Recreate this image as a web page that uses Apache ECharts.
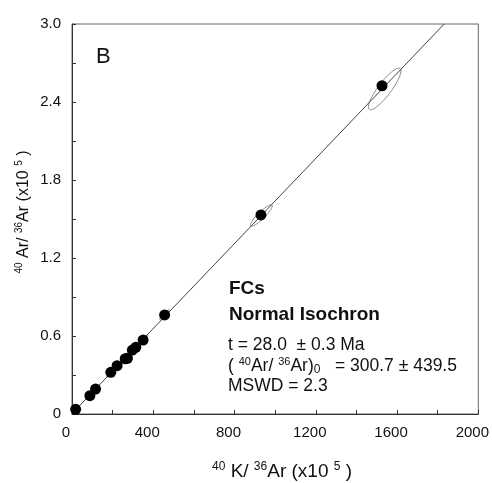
<!DOCTYPE html>
<html>
<head>
<meta charset="utf-8">
<script src="https://cdn.jsdelivr.net/npm/echarts@6/dist/echarts.min.js"></script>
<style>html,body{margin:0;padding:0;background:#fff;}#c{width:492px;height:483px;}</style>
</head>
<body>
<div id="c"></div>
<script>
// 40K/36Ar (x10^5) and 40Ar/36Ar (x10^5) of the analysed points
var pointX = [18, 88, 116, 191, 222, 262, 273, 297, 314, 350, 456, 930, 1526];
var pointY = [0.036, 0.141, 0.192, 0.321, 0.372, 0.425, 0.428, 0.492, 0.513, 0.569, 0.762, 1.531, 2.525];
// error ellipses: centre x, centre y, sigma x, sigma y, correlation
var ellCx  = [18, 88, 116, 191, 222, 262, 273, 297, 314, 350, 456, 932, 1539];
var ellCy  = [0.036, 0.141, 0.192, 0.321, 0.372, 0.425, 0.428, 0.492, 0.513, 0.569, 0.762, 1.527, 2.50];
var ellSx  = [18, 18, 18, 20, 20, 22, 22, 22, 22, 22, 24, 54, 80];
var ellSy  = [0.032, 0.032, 0.032, 0.035, 0.035, 0.038, 0.038, 0.038, 0.038, 0.038, 0.040, 0.083, 0.16];
var ellRho = [0.9, 0.9, 0.9, 0.9, 0.9, 0.9, 0.9, 0.9, 0.9, 0.9, 0.9, 0.9, 0.87];
// isochron line end points
var isoX = [0, 1832];
var isoY = [0.003, 3.0];
// axis ranges / ticks
var xMin = 0, xMax = 2000, xTick = 200, xLabelStep = 400;
var yMin = 0, yMax = 3.0, yTick = 0.3;

var FONT = '"Liberation Sans", Arial, Helvetica, sans-serif';

var scatterData = pointX.map(function (x, i) { return [x, pointY[i]]; });
var ellData = ellCx.map(function (x, i) { return [x, ellCy[i], ellSx[i], ellSy[i], ellRho[i]]; });
var lineData = isoX.map(function (x, i) { return [x, isoY[i]]; });

var chart = echarts.init(document.getElementById('c'), null, {renderer: 'canvas'});

var option = {
  animation: false,
  backgroundColor: '#fff',
  grid: {left: 72, right: 12, top: 24, bottom: 69, show: true, borderColor: '#666', borderWidth: 1, backgroundColor: 'transparent'},
  xAxis: {
    type: 'value', min: xMin, max: xMax, interval: xTick,
    axisLine: {show: true, onZero: false, lineStyle: {color: '#333', width: 1}},
    axisTick: {show: true, inside: true, length: 4, lineStyle: {color: '#333'}},
    splitLine: {show: false},
    axisLabel: {
      margin: 11, color: '#111', fontSize: 15, fontFamily: FONT, padding: [0, 12, 0, 0],
      formatter: function (v) { return (Math.round(v) % xLabelStep === 0) ? String(Math.round(v)) : ''; }
    }
  },
  yAxis: {
    type: 'value', min: yMin, max: yMax, interval: yTick,
    axisLine: {show: true, onZero: false, lineStyle: {color: '#333', width: 1}},
    axisTick: {show: true, inside: true, length: 4, lineStyle: {color: '#333'}},
    splitLine: {show: false},
    axisLabel: {
      margin: 11, color: '#111', fontSize: 15, fontFamily: FONT,
      formatter: function (v) {
        var k = Math.round(v * 10);
        if (k % 6 !== 0) return '';
        return k === 0 ? '0' : (k / 10).toFixed(1);
      }
    }
  },
  series: [
    {
      type: 'custom',
      data: ellData,
      encode: {x: 0, y: 1},
      z: 1,
      renderItem: function (params, api) {
        var cx = api.value(0), cy = api.value(1), sx = api.value(2), sy = api.value(3), r = api.value(4);
        var pts = [];
        var n = 72;
        var q = Math.sqrt(1 - r * r);
        for (var i = 0; i < n; i++) {
          var t = 2 * Math.PI * i / n;
          var dx = sx * Math.cos(t);
          var dy = sy * (r * Math.cos(t) + q * Math.sin(t));
          pts.push(api.coord([cx + dx, cy + dy]));
        }
        return {
          type: 'polygon',
          shape: {points: pts},
          style: {fill: 'none', stroke: '#8a8a8a', lineWidth: 1}
        };
      }
    },
    {
      type: 'line',
      data: lineData,
      symbol: 'none',
      z: 2,
      lineStyle: {color: '#444', width: 1},
      silent: true
    },
    {
      type: 'scatter',
      data: scatterData,
      symbol: 'circle',
      symbolSize: 11,
      z: 3,
      itemStyle: {color: '#000', opacity: 1}
    }
  ],
  graphic: [
    {type: 'text', left: 96, top: 46, style: {text: 'B', font: '22px ' + FONT, fill: '#111'}},
    {type: 'text', x: 229, y: 289, style: {text: 'FCs', font: 'bold 19px ' + FONT, fill: '#111', verticalAlign: 'middle'}},
    {type: 'text', x: 229, y: 315, style: {text: 'Normal Isochron', font: 'bold 19px ' + FONT, fill: '#111', verticalAlign: 'middle'}},
    {type: 'text', x: 228, y: 345, style: {text: 't = 28.0  \u00b1 0.3 Ma', font: '17.5px ' + FONT, fill: '#111', verticalAlign: 'middle'}},
    {type: 'text', x: 228, y: 366, style: {
      text: '( {sup|40}Ar/ {sup|36}Ar){sub|0}   = 300.7 \u00b1 439.5',
      font: '17.5px ' + FONT, fill: '#111', verticalAlign: 'middle', lineHeight: 20,
      rich: {
        sup: {fontSize: 11, fontFamily: FONT, fill: '#111', verticalAlign: 'top', lineHeight: 15},
        sub: {fontSize: 12, fontFamily: FONT, fill: '#111', verticalAlign: 'bottom', lineHeight: 12}
      }
    }},
    {type: 'text', x: 228, y: 386, style: {text: 'MSWD = 2.3', font: '17.5px ' + FONT, fill: '#111', verticalAlign: 'middle'}},
    {type: 'text', x: 282, y: 472, style: {
      text: '{sup|40} K/ {sup|36}Ar (x10 {sup|5} )',
      font: '19px ' + FONT, fill: '#111', align: 'center', verticalAlign: 'middle', lineHeight: 22,
      rich: {sup: {fontSize: 12, fontFamily: FONT, fill: '#111', verticalAlign: 'top', lineHeight: 10}}
    }},
    {type: 'text', x: 24, y: 212, rotation: Math.PI / 2, style: {
      text: '{sup|40} Ar/ {sup|36}Ar (x10 {sup|5} )',
      font: '16px ' + FONT, fill: '#111', align: 'center', verticalAlign: 'middle', lineHeight: 19,
      rich: {sup: {fontSize: 10, fontFamily: FONT, fill: '#111', verticalAlign: 'top', lineHeight: 9}}
    }}
  ]
};
chart.setOption(option);
</script>
</body>
</html>
